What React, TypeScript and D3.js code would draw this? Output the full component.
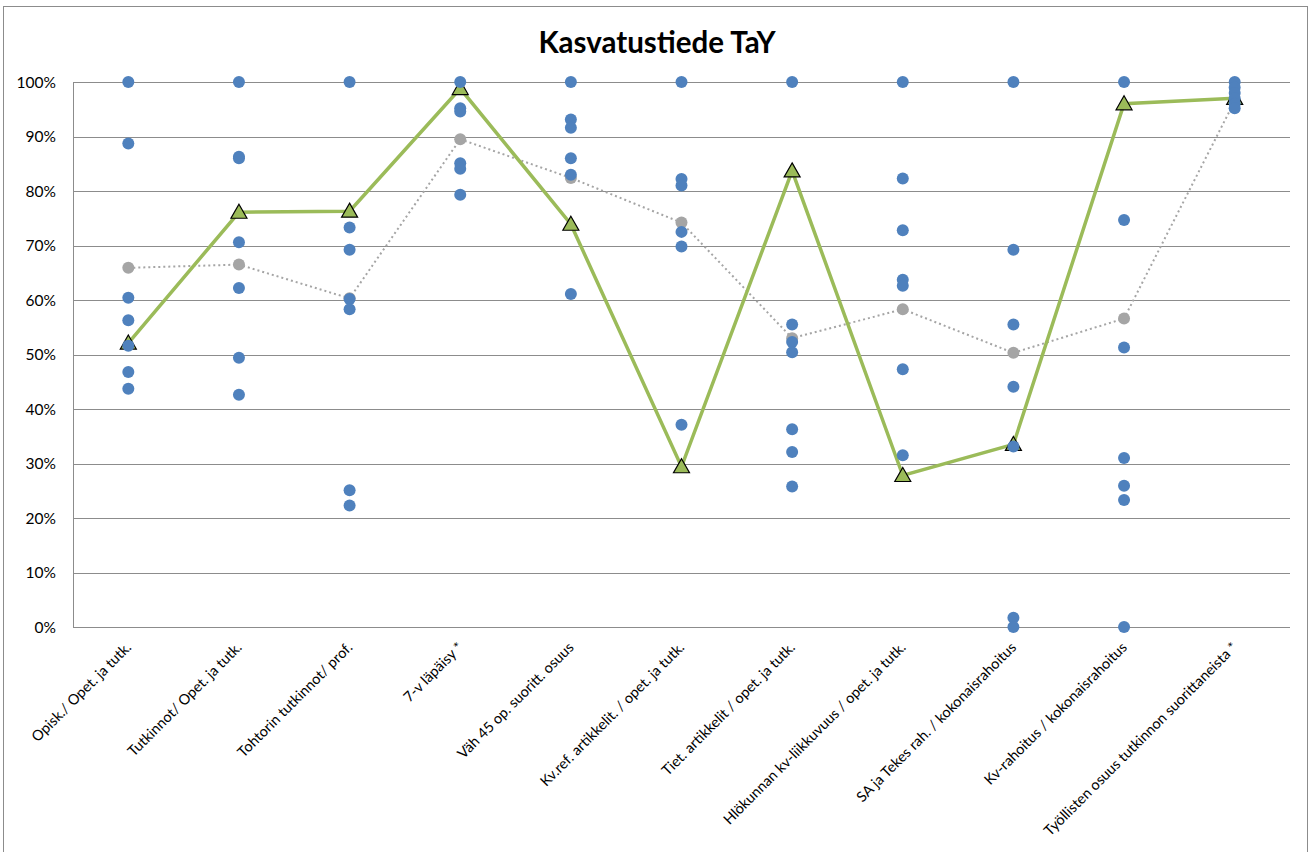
import { scaleBand, scaleLinear, line } from "d3";

const WIDTH = 1310;
const HEIGHT = 852;

const PLOT = { left: 73, right: 1290, top: 82, bottom: 627 };

const TITLE = "Kasvatustiede TaY";

const categories = [
  "Opisk./ Opet. ja tutk.",
  "Tutkinnot/ Opet. ja tutk.",
  "Tohtorin tutkinnot/ prof.",
  "7-v läpäisy *",
  "Väh 45 op. suoritt. osuus",
  "Kv.ref. artikkelit. / opet. ja tutk.",
  "Tiet. artikkelit / opet. ja tutk.",
  "Hlökunnan kv-liikkuvuus / opet. ja tutk.",
  "SA ja Tekes rah. / kokonaisrahoitus",
  "Kv-rahoitus / kokonaisrahoitus",
  "Työllisten osuus tutkinnon suorittaneista *",
];

// other universities, one list per category (percent)
const others: number[][] = [
  [100, 88.7, 60.4, 56.3, 51.6, 46.8, 43.7],
  [100, 86.3, 86.0, 70.6, 62.2, 49.4, 42.6],
  [100, 73.3, 69.2, 60.2, 58.3, 25.1, 22.3],
  [100, 95.2, 94.6, 85.1, 84.1, 79.3],
  [100, 93.1, 91.6, 86.0, 83.0, 61.1],
  [100, 82.2, 81.0, 72.5, 69.8, 37.1],
  [100, 55.5, 52.3, 50.4, 36.3, 32.1, 25.8],
  [100, 82.3, 72.8, 63.7, 62.6, 47.3, 31.5],
  [100, 69.2, 55.5, 44.1, 33.1, 1.7, 0],
  [100, 74.7, 51.3, 31.0, 25.9, 23.3, 0],
  [100, 99.0, 98.0, 97.0, 96.0, 95.2],
];

// average (grey dotted)
const average = [65.9, 66.5, 60.3, 89.5, 82.4, 74.2, 53.0, 58.3, 50.3, 56.6, 96.5];

// TaY (green triangles)
const tay = [52.1, 76.1, 76.3, 98.8, 73.9, 29.4, 83.7, 27.8, 33.5, 96.0, 97.0];

const yTicks = [0, 10, 20, 30, 40, 50, 60, 70, 80, 90, 100];

const FONT = "Lato, 'Liberation Sans', sans-serif";
const BLUE = "#4F81BD";
const GREEN = "#9BBB59";
const GREY = "#A5A5A5";
const GRID = "#8C8C8C";

export default function App() {
  const x = scaleBand<string>()
    .domain(categories)
    .range([PLOT.left, PLOT.right])
    .paddingInner(0)
    .paddingOuter(0);
  const cx = (c: string) => (x(c) ?? 0) + x.bandwidth() / 2;

  const y = scaleLinear().domain([0, 100]).range([PLOT.bottom, PLOT.top]);

  const path = line<number>()
    .x((_, i) => cx(categories[i]))
    .y(d => y(d));

  const tri = (px: number, py: number) =>
    `M${px},${py - 8}L${px + 8},${py + 6}L${px - 8},${py + 6}Z`;

  return (
    <svg
      width={WIDTH}
      height={HEIGHT}
      style={{ position: "absolute", left: 0, top: 0, background: "#fff" }}
      fontFamily={FONT}
    >
      <rect x={3.5} y={6.5} width={1304} height={870} fill="#fff" stroke={GRID} />

      <text
        x={657}
        y={53}
        textAnchor="middle"
        fontSize={29.5}
        fontWeight="bold"
        fill="#000"
      >
        {TITLE}
      </text>

      {/* GRID + Y AXIS */}
      {yTicks.map(t => (
        <g key={t}>
          <line
            x1={PLOT.left}
            x2={PLOT.right}
            y1={Math.round(y(t)) + 0.5}
            y2={Math.round(y(t)) + 0.5}
            stroke={GRID}
            strokeWidth={1}
          />
          <text
            x={56}
            y={y(t)}
            dy="0.36em"
            textAnchor="end"
            fontSize={15.5}
            fill="#000"
          >
            {t}%
          </text>
        </g>
      ))}
      <line
        x1={PLOT.left + 0.5}
        x2={PLOT.left + 0.5}
        y1={PLOT.top}
        y2={PLOT.bottom}
        stroke={GRID}
      />

      {/* CATEGORY LABELS */}
      {categories.map(c => (
        <text
          key={c}
          transform={`translate(${cx(c) - 3.5},641) rotate(-45)`}
          dy="0.71em"
          textAnchor="end"
          fontSize={14.5}
          fill="#000"
        >
          {c}
        </text>
      ))}

      {/* AVERAGE */}
      <path
        d={path(average) ?? ""}
        fill="none"
        stroke={GREY}
        strokeWidth={2}
        strokeDasharray="2 3"
      />
      {average.map((v, i) => (
        <circle key={i} cx={cx(categories[i])} cy={y(v)} r={6} fill={GREY} />
      ))}

      {/* TaY */}
      <path d={path(tay) ?? ""} fill="none" stroke={GREEN} strokeWidth={3.5} />
      {tay.map((v, i) => (
        <path
          key={i}
          d={tri(cx(categories[i]), y(v))}
          fill={GREEN}
          stroke="#000"
          strokeWidth={1.2}
        />
      ))}

      {/* OTHERS */}
      {others.map((vals, i) =>
        vals.map((v, j) => (
          <circle
            key={`${i}-${j}`}
            cx={cx(categories[i])}
            cy={y(v)}
            r={6}
            fill={BLUE}
          />
        ))
      )}
    </svg>
  );
}
